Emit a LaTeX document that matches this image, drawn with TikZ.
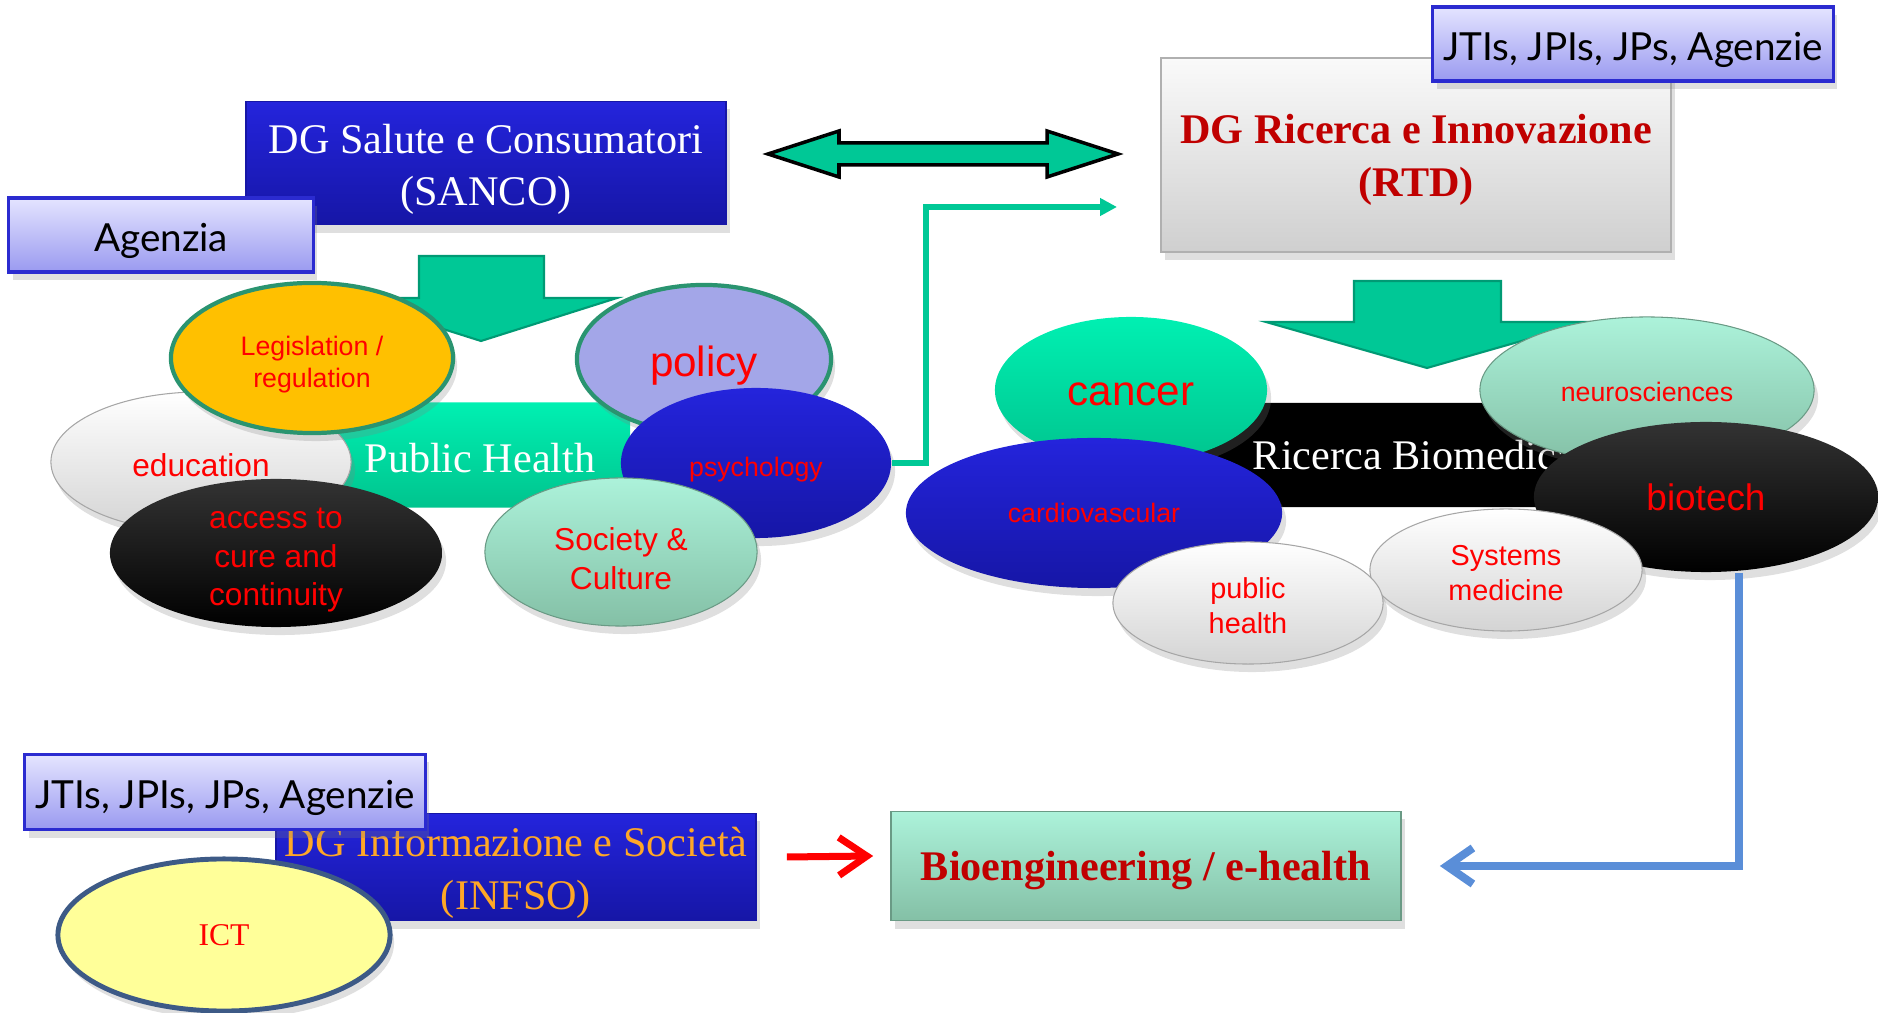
\documentclass[tikz,border=0pt]{standalone}
\usepackage{fontspec}
\setmainfont{Liberation Serif}
\newfontfamily\arialfont{Liberation Sans}
\newfontfamily\tagfont{Lato}
\usetikzlibrary{shapes.geometric,arrows.meta,shadows}

\definecolor{dgblue}{HTML}{2424DC}
\definecolor{dgbluedark}{HTML}{1616A6}
\definecolor{lavtop}{HTML}{E4E4FF}
\definecolor{lavbot}{HTML}{9A9AF0}
\definecolor{lavline}{HTML}{2B2BD0}
\definecolor{mint}{HTML}{00C896}
\definecolor{mintdark}{HTML}{009A74}
\definecolor{aqua}{HTML}{00F0B2}
\definecolor{aquadark}{HTML}{00C48E}
\definecolor{seafoam}{HTML}{ACF2DA}
\definecolor{seafoamdark}{HTML}{84C0A6}
\definecolor{gold}{HTML}{FFC000}
\definecolor{rimgreen}{HTML}{2A9470}
\definecolor{periwinkle}{HTML}{A3A6E8}
\definecolor{titlered}{HTML}{C00000}
\definecolor{infsoorange}{HTML}{FFA726}
\definecolor{cornflower}{HTML}{5A8ED8}
\definecolor{ictyellow}{HTML}{FFFF99}
\definecolor{ictrim}{HTML}{3D5A86}
\definecolor{greytop}{HTML}{FAFAFA}
\definecolor{greybot}{HTML}{CFCFCF}

% invisible strut that gives the first line of a label some head room
\newcommand{\lineroom}[1]{\rule{0pt}{#1}}

\begin{document}
\begin{tikzpicture}[x=0.01cm, y=-0.01cm,
    sunk/.style = {execute at begin node={\rule{0pt}{#1}}},
    softshadow/.style = {drop shadow={opacity=0.25, shadow xshift=0.4mm, shadow yshift=-0.8mm}},
    dgbox/.style = {draw=dgbluedark, top color=dgblue, bottom color=dgbluedark, inner sep=0, align=center, softshadow, font=\fontsize{12}{15}\selectfont},
    tagbox/.style = {draw=lavline, line width=0.9pt, top color=lavtop, bottom color=lavbot, inner sep=0, softshadow, sunk=1.02em, font=\tagfont\fontsize{11}{13}\selectfont},
    topic/.style = {ellipse, inner sep=0, align=center, text=red, softshadow, font=\arialfont\fontsize{9}{11}\selectfont},
    rimmed/.style = {topic, draw=rimgreen, line width=1.2pt},
    whiteball/.style = {topic, top color=white, bottom color=greybot!90, draw=greybot!80!black, line width=0.3pt},
    greenball/.style = {topic, top color=seafoam, bottom color=seafoamdark, draw=seafoamdark!80!black, line width=0.3pt},
    bar/.style = {rounded corners=0.12cm, inner sep=0, text=white, font=\fontsize{12}{15}\selectfont},
    blockarrow/.style = {fill=mint, draw=mintdark, line width=0.6pt}]

\useasboundingbox (0,0) rectangle (1878,1013);

% block arrows under the clusters
\draw[blockarrow] (419,256) -- (544,256) -- (544,298) -- (617,298) -- (481,341) -- (345,298) -- (419,298) -- cycle;
\draw[blockarrow] (1354,281) -- (1501,281) -- (1501,322) -- (1588,322) -- (1427,368) -- (1266,322) -- (1354,322) -- cycle;

% public health cluster
\node[bar, sunk=0.85em, top color=aqua, bottom color=aquadark, minimum width=3cm, minimum height=1.05cm] (ph) at (480,455) {Public Health};
\node[whiteball, sunk=0.94em, minimum width=3cm, minimum height=1.4cm] (educ) at (201,462) {education};
\node[rimmed, fill=gold, minimum width=2.82cm, minimum height=1.5cm, font=\arialfont\fontsize{7.6}{9.2}\selectfont] (legis) at (312,358) {\lineroom{1.24em}Legislation /\\regulation};
\node[rimmed, sunk=1.05em, fill=periwinkle, minimum width=2.54cm, minimum height=1.48cm, font=\arialfont\fontsize{12}{14}\selectfont] (policy) at (704,359) {policy};
\node[topic, sunk=1.24em, top color=dgblue, bottom color=dgbluedark, minimum width=2.7cm, minimum height=1.5cm, font=\arialfont\fontsize{7.6}{9}\selectfont] (psych) at (756,463) {psychology};
\node[topic, inner ysep=-0.12cm, top color=black!80, bottom color=black, minimum width=3.32cm, minimum height=1.48cm] (access) at (276,553) {\lineroom{1.1em}access to\\cure and\\continuity};
\node[greenball, inner ysep=-0.05cm, minimum width=2.72cm, minimum height=1.48cm] (society) at (621,552) {\lineroom{1.14em}Society \&\\Culture};

% SANCO
\node[dgbox, text=white, minimum width=4.8cm, minimum height=1.23cm] (sanco) at (486,163) {\lineroom{1em}DG Salute e Consumatori\\(SANCO)};
\node[tagbox, minimum width=3.04cm, minimum height=0.74cm] (agency) at (161,235) {Agenzia};

% link between the two DGs
\draw[fill=mint, draw=black, line width=1pt] (768,154) -- (839,131) -- (839,143) -- (1047,143) -- (1047,131) -- (1118,154) -- (1047,177) -- (1047,165) -- (839,165) -- (839,177) -- cycle;

% RTD
\node[dgbox, draw=greybot!85!black, top color=greytop, bottom color=greybot, text=titlered, font=\bfseries\fontsize{12}{15}\selectfont, minimum width=5.1cm, minimum height=1.94cm] (rtd) at (1416,155) {\lineroom{0.93em}DG Ricerca e Innovazione\\(RTD)};
\node[tagbox, minimum width=4cm, minimum height=0.74cm] (jtitop) at (1633,44) {JTIs, JPIs, JPs, Agenzie};

% biomedical research cluster
\node[bar, fill=black, minimum width=4.4cm, minimum height=1.04cm] (rb) at (1414,455) {Ricerca Biomedica};
\node[topic, sunk=0.74em, top color=aqua, bottom color=aquadark, minimum width=2.72cm, minimum height=1.46cm, font=\arialfont\fontsize{12}{14}\selectfont] (cancer) at (1131,390) {cancer};
\node[greenball, sunk=0.87em, minimum width=3.34cm, minimum height=1.46cm, font=\arialfont\fontsize{7.6}{9}\selectfont] (neuro) at (1647,390) {neurosciences};
\node[topic, top color=dgblue, bottom color=dgbluedark, minimum width=3.76cm, minimum height=1.5cm, font=\arialfont\fontsize{7.6}{9}\selectfont] (cardio) at (1094,513) {cardiovascular};
\node[topic, top color=black!80, bottom color=black, minimum width=3.44cm, minimum height=1.5cm, font=\arialfont\fontsize{10.5}{12}\selectfont] (biotech) at (1706,497) {biotech};
\node[whiteball, minimum width=2.72cm, minimum height=1.22cm, font=\arialfont\fontsize{8.2}{10}\selectfont] (sysmed) at (1506,570) {\lineroom{0.89em}Systems\\medicine};
\node[whiteball, minimum width=2.7cm, minimum height=1.22cm, font=\arialfont\fontsize{8.2}{10}\selectfont] (pubh) at (1248,603) {\lineroom{0.89em}public\\health};

% INFSO
\node[dgbox, text=infsoorange, minimum width=4.8cm, minimum height=1.07cm] (infso) at (516,867) {\lineroom{0.97em}DG Informazione e Società\\(INFSO)};
\node[tagbox, minimum width=4cm, minimum height=0.75cm] (jtibot) at (225,792) {JTIs, JPIs, JPs, Agenzie};
\node[topic, fill=ictyellow, draw=ictrim, line width=1.4pt, minimum width=3.32cm, minimum height=1.52cm, font=\fontsize{9}{11}\selectfont] (ict) at (224,935) {ICT};

% Bioengineering
\node[dgbox, sunk=0.9em, draw=seafoamdark!80!black, top color=seafoam, bottom color=seafoamdark, text=titlered, font=\bfseries\fontsize{12}{15}\selectfont, minimum width=5.1cm, minimum height=1.09cm] (bioeng) at (1146,866) {Bioengineering / e-health};

% connectors
\coordinate (rtdin) at (1117,207);
\draw[mint, line width=0.55mm, -{Triangle[length=1.7mm, width=1.7mm]}] (psych.east) -- (926,463) |- (rtdin);
\draw[cornflower, line width=0.8mm, -{Straight Barb[length=2.6mm, width=3.6mm]}] ([xshift=0.33cm]biotech.south) |- ([xshift=0.38cm]bioeng.east);
\draw[red, line width=0.7mm, -{Straight Barb[length=2.8mm, width=3.8mm]}] ([xshift=0.3cm, yshift=0.1cm]infso.east) -- ([xshift=-0.17cm, yshift=0.1cm]bioeng.west);

\end{tikzpicture}
\end{document}
